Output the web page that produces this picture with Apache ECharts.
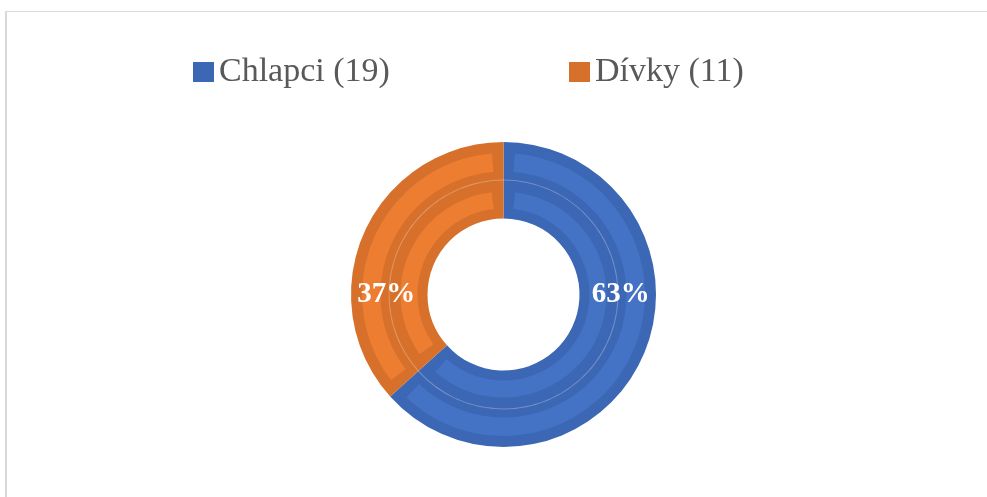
<!DOCTYPE html>
<html>
<head>
<meta charset="utf-8">
<script src="https://cdn.jsdelivr.net/npm/echarts@6/dist/echarts.min.js"></script>
<style>
  html, body { margin: 0; padding: 0; background: #ffffff; }
  #frame { position: absolute; left: 5px; top: 11px; width: 1200px; height: 700px;
           border-top: 1px solid #d9d9d9; border-left: 2px solid #d9d9d9; box-sizing: border-box; }
  #chart { position: absolute; left: 0; top: 0; width: 987px; height: 497px; }
</style>
</head>
<body>
<div id="frame"></div>
<div id="chart"></div>
<script>
// ---- data ----
const categories = ['Chlapci', 'Dívky'];
const counts = [19, 11];
const lightColors = ['#4472C4', '#ED7D31'];
const darkColors = ['#3C67B4', '#D6702B'];

const total = counts.reduce((a, b) => a + b, 0);
const dataWith = (colors) => categories.map((c, i) => ({
  name: c, value: counts[i], itemStyle: { color: colors[i] }
}));

const center = [503.5, 294.5];
const common = {
  type: 'pie', center: center, silent: true, animation: false,
  label: { show: false }, labelLine: { show: false },
  emphasis: { disabled: true }, clockwise: true, startAngle: 90
};

const legendText = {
  color: '#595959', fontFamily: 'Liberation Serif', fontSize: 34, lineHeight: 40
};
const legendFormatter = (name) => name + ' (' + counts[categories.indexOf(name)] + ')';

const chart = echarts.init(document.getElementById('chart'), null, { renderer: 'canvas' });
chart.setOption({
  backgroundColor: 'transparent',
  legend: [
    { data: [categories[0]], left: 188, top: 47, itemWidth: 21, itemHeight: 20, itemGap: 0,
      icon: 'rect', textStyle: legendText, formatter: legendFormatter, selectedMode: false },
    { data: [categories[1]], left: 564, top: 47, itemWidth: 21, itemHeight: 20, itemGap: 0,
      icon: 'rect', textStyle: legendText, formatter: legendFormatter, selectedMode: false }
  ],
  series: [
    // dark base (border tone)
    Object.assign({}, common, { name: 'base', radius: [76, 152.5], data: dataWith(darkColors) }),
    // thin light separator between the two rings
    Object.assign({}, common, { name: 'sep', radius: [114, 115], z: 3,
      data: categories.map((c, i) => ({ name: c, value: counts[i], itemStyle: { color: 'rgba(255,255,255,0.28)' } })) }),
    // lighter fill of the outer ring
    Object.assign({}, common, { name: 'outerFill', radius: [123, 141.5], padAngle: 9.3, z: 4,
      data: dataWith(lightColors) }),
    // lighter fill of the inner ring
    Object.assign({}, common, { name: 'innerFill', radius: [86, 103], padAngle: 13, z: 4,
      data: dataWith(lightColors) }),
    // label carrier: places percentage labels at the horizontal positions
    Object.assign({}, common, { name: 'labels', radius: [76, 152.5], z: 6,
      startAngle: 360 * counts[0] / total / 2,
      label: { show: true, position: 'inside', color: '#ffffff', fontFamily: 'Liberation Serif',
        fontWeight: 'bold', fontSize: 29,
        formatter: (p) => Math.round(p.value / total * 100) + '%' },
      data: categories.map((c, i) => ({ name: c, value: counts[i], itemStyle: { color: 'rgba(0,0,0,0)' } })) })
  ]
});
</script>
</body>
</html>
